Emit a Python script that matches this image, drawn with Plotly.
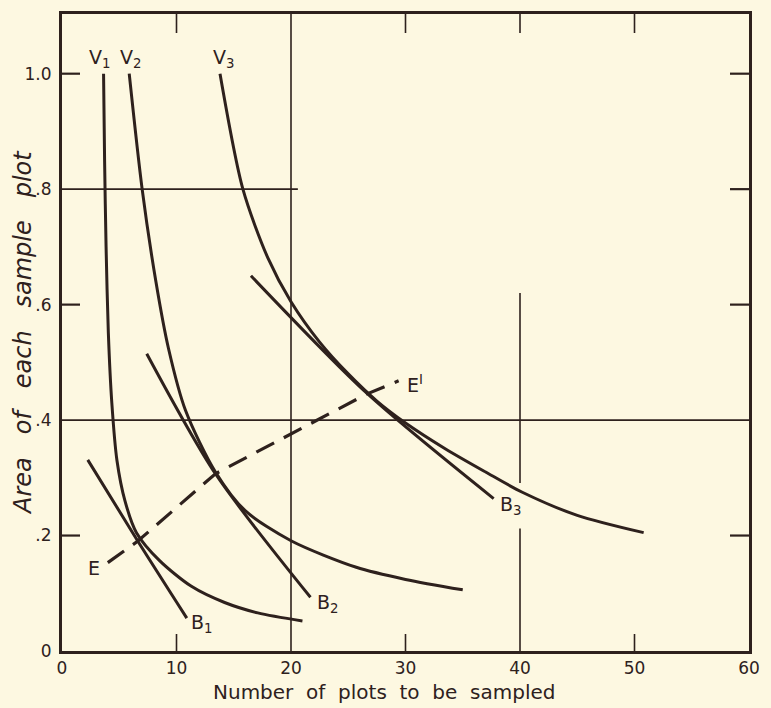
import plotly.graph_objects as go

# Curvas de variância (V) e de custo (B)
v1_x = [3.63, 3.72, 3.85, 4.05, 4.35, 4.8, 5.5, 6.5, 8.5, 11.3, 14.2, 17.1, 21.0]
v1_y = [1.0, 0.85, 0.7, 0.55, 0.43, 0.33, 0.26, 0.205, 0.157, 0.112, 0.084, 0.066, 0.052]

v2_x = [5.87, 7.0, 8.2, 9.3, 10.8, 13.4, 16.0, 20.0, 25.7, 30.0, 35.0]
v2_y = [1.0, 0.8, 0.64, 0.524, 0.416, 0.31, 0.243, 0.191, 0.145, 0.124, 0.106]

v3_x = [13.8, 15.8, 18.0, 20.0, 22.5, 25.0, 27.5, 30.0, 33.5, 37.0, 40.2, 45.0, 50.8]
v3_y = [1.0, 0.8, 0.68, 0.605, 0.535, 0.48, 0.433, 0.395, 0.35, 0.31, 0.275, 0.235, 0.205]

b1_x = [2.25, 6.6, 10.9]
b1_y = [0.331, 0.191, 0.057]

b2_x = [7.4, 13.4, 21.7]
b2_y = [0.515, 0.307, 0.093]

b3_x = [16.5, 26.6, 37.7]
b3_y = [0.65, 0.447, 0.264]

# Linha tracejada E - E'
e_x = [4.0, 6.6, 13.4, 26.6, 29.4]
e_y = [0.153, 0.19, 0.307, 0.445, 0.468]

# Rótulos das curvas
lbl_text = ["V<sub>1</sub>", "V<sub>2</sub>", "V<sub>3</sub>", "B<sub>1</sub>", "B<sub>2</sub>",
            "B<sub>3</sub>", "E", "E<sup>I</sup>"]
lbl_x = [3.28, 5.96, 14.08, 12.2, 23.2, 39.2, 2.76, 30.8]
lbl_y = [1.026, 1.026, 1.026, 0.048, 0.083, 0.252, 0.143, 0.462]

# Eixos
x_ticks = [0, 10, 20, 30, 40, 50, 60]
y_ticks = [0, 0.2, 0.4, 0.6, 0.8, 1.0]
y_tick_text = ["0", ".2", ".4", ".6", ".8", "1.0"]
x_range = [0, 60]
y_range = [0, 1.1034]

# Marcas internas curtas
left_ticks = [1.0, 0.6, 0.2]
right_ticks = [1.0, 0.8, 0.6, 0.2]
top_ticks = [10, 30, 40, 50]
bottom_ticks = [10, 30, 50]

# Linhas de grade parciais: (x0, y0, x1, y1)
grid_lines = [
    (0, 0.8, 20.6, 0.8),
    (20, 0, 20, 1.1034),
    (0, 0.4, 60, 0.4),
    (40, 0.62, 40, 0.291),
    (40, 0.212, 40, 0),
]

INK = "#2e211d"
BG = "#fdf8e1"
FONT = "DejaVu Sans"

fig = go.Figure()

for xs, ys in [(v1_x, v1_y), (v2_x, v2_y), (v3_x, v3_y), (b1_x, b1_y), (b2_x, b2_y), (b3_x, b3_y)]:
    fig.add_trace(go.Scatter(x=xs, y=ys, mode="lines",
                             line=dict(color=INK, width=3, shape="spline", smoothing=0.8),
                             showlegend=False, hoverinfo="skip"))

fig.add_trace(go.Scatter(x=e_x, y=e_y, mode="lines",
                         line=dict(color=INK, width=3.2, dash="20px,11px"),
                         showlegend=False, hoverinfo="skip"))

for t, x, y in zip(lbl_text, lbl_x, lbl_y):
    fig.add_annotation(x=x, y=y, text=t, showarrow=False,
                       font=dict(family=FONT, size=19, color=INK))

shapes = []
for x0, y0, x1, y1 in grid_lines:
    shapes.append(dict(type="line", xref="x", yref="y", x0=x0, y0=y0, x1=x1, y1=y1,
                       line=dict(color=INK, width=1.6), layer="below"))
for v in left_ticks:
    shapes.append(dict(type="line", xref="x", yref="y", xsizemode="pixel", xanchor=0,
                       x0=0, x1=18, y0=v, y1=v, line=dict(color=INK, width=2.2)))
for v in right_ticks:
    shapes.append(dict(type="line", xref="x", yref="y", xsizemode="pixel", xanchor=60,
                       x0=-19, x1=0, y0=v, y1=v, line=dict(color=INK, width=2.2)))
for v in top_ticks:
    shapes.append(dict(type="line", xref="x", yref="y", ysizemode="pixel", yanchor=y_range[1],
                       y0=0, y1=-19, x0=v, x1=v, line=dict(color=INK, width=1.6)))
for v in bottom_ticks:
    shapes.append(dict(type="line", xref="x", yref="y", ysizemode="pixel", yanchor=0,
                       y0=0, y1=17, x0=v, x1=v, line=dict(color=INK, width=1.6)))

fig.update_layout(
    width=771, height=708,
    margin=dict(l=62, r=14, t=11, b=57),
    paper_bgcolor=BG, plot_bgcolor=BG,
    shapes=shapes,
    font=dict(family=FONT, color=INK),
)

fig.update_xaxes(range=x_range, tickvals=x_ticks, ticks="", showgrid=False, zeroline=False,
                 showline=True, mirror=True, linecolor=INK, linewidth=3,
                 tickfont=dict(family=FONT, size=17, color=INK))
fig.update_yaxes(range=y_range, tickvals=y_ticks, ticktext=y_tick_text, ticks="",
                 showgrid=False, zeroline=False, ticklabelstandoff=4,
                 showline=True, mirror=True, linecolor=INK, linewidth=3,
                 tickfont=dict(family=FONT, size=17, color=INK))

# Títulos dos eixos
fig.add_annotation(xref="paper", yref="paper", x=0.469, y=-0.064, xanchor="center", yanchor="middle",
                   text="Number&nbsp; of&nbsp; plots&nbsp; to&nbsp; be&nbsp; sampled", showarrow=False,
                   font=dict(family=FONT, size=20, color=INK))
fig.add_annotation(xref="paper", yref="paper", x=-0.0576, y=0.5, textangle=-90,
                   xanchor="center", yanchor="middle",
                   text="<i>Area&nbsp;&nbsp; of&nbsp;&nbsp; each&nbsp;&nbsp; sample&nbsp;&nbsp; plot</i>",
                   showarrow=False, font=dict(family=FONT, size=24, color=INK))

# tira a margem padrão do body para a figura ocupar a janela toda
fig.write_html("out.html", config={"displayModeBar": False},
               post_script="document.body.style.margin='0';document.body.style.background='%s';" % BG)
